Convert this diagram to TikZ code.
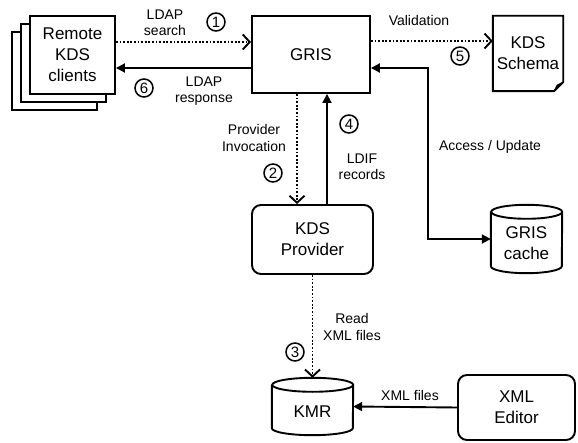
\documentclass[tikz,border=0pt]{standalone}
\usepackage{fontspec}
\setmainfont{Liberation Sans}
\usetikzlibrary{arrows.meta}

\tikzset{
 box/.style={draw,line width=1.9pt,fill=white,align=center,inner sep=0pt,font=\fontsize{17}{21}\selectfont},
 plain/.style={align=center,inner sep=0pt,font=\fontsize{17}{21}\selectfont},
 lbl/.style={align=center,inner sep=0pt,font=\fontsize{14}{16.5}\selectfont},
 num/.style={draw,circle,line width=1.5pt,minimum size=18pt,inner sep=0pt,font=\fontsize{15}{15}\selectfont},
 call/.style={line width=1.9pt,dash pattern=on 1.9pt off 1.7pt,-{Straight Barb[length=7pt,width=15pt,line width=1.9pt]}},
 ret/.style={line width=1.9pt,-{Triangle[length=9pt,width=9pt]}},
}
% cylinder outline round a node
\newcommand\drawdb[3]{%
 \draw[line width=1.9pt] ([yshift=-#3]#1.north west) -- ([yshift=#3]#1.south west)
   arc[start angle=180,end angle=360,x radius=#2,y radius=#3]
   -- ([yshift=-#3]#1.north east)
   arc[start angle=0,end angle=360,x radius=#2,y radius=#3];
}

\begin{document}
\begin{tikzpicture}[x=1pt,y=-1pt]
 \useasboundingbox (0,0) rectangle (578,443);
 % nodes
 \draw[line width=1.9pt,fill=white](12,32) rectangle (97,110);
 \draw[line width=1.9pt,fill=white](21,24) rectangle (106,102);
 \node[box,minimum width=85pt,minimum height=78pt] (clients) at (72.5,55) {Remote\\KDS\\clients};
 \node[box,minimum width=118pt,minimum height=77pt] (gris) at (311,54.5) {GRIS};
 \node[plain,minimum width=70pt,minimum height=75pt] (schema) at (528,53.5) {KDS\\Schema};
 \node[plain,minimum width=71pt,minimum height=68pt] (cache) at (526.5,239) {};
 \node[box,rounded corners=9pt,minimum width=121pt,minimum height=69pt] (provider) at (312.5,239.5) {KDS\\Provider};
 \node[plain,minimum width=81pt,minimum height=57pt] (kmr) at (312.5,406.5) {};
 \node[box,rounded corners=9pt,minimum width=117pt,minimum height=65pt] (editor) at (516.5,407.5) {XML\\Editor};

 \draw[line width=1.9pt](schema.north west)--(schema.north east)--([yshift=9pt]schema.south east)--([xshift=-9pt]schema.south east)--(schema.south west)--cycle;
 \draw[line width=1.2pt,fill=black]([xshift=-9pt]schema.south east)--([xshift=-6pt,yshift=6pt]schema.south east)--([yshift=9pt]schema.south east);
 \drawdb{cache}{35.5pt}{7pt}
 \node[plain] at ([yshift=-4pt]cache.center) {GRIS\\cache};
 \drawdb{kmr}{40.5pt}{7pt}
 \node[plain] at ([yshift=-5pt]kmr.center) {KMR};

 % connectors
 \draw[call](clients.east |- 0,42)--(gris.west |- 0,42);
 \draw[ret](gris.west |- 0,68)--(clients.east |- 0,68);
 \draw[call](gris.east |- 0,41)--(schema.west |- 0,41);
 \draw[ret,{Triangle[length=9pt,width=9pt]}-{Triangle[length=9pt,width=9pt]}](gris.east |- 0,68) -| (428,239) -- (cache.west);
 \draw[call](gris.south -| 297,0)--(provider.north -| 297,0);
 \draw[ret](provider.north -| 327,0)--(gris.south -| 327,0);
 \draw[call](provider.south)--(kmr.north);
 \draw[ret](editor.west)--(kmr.east);

 % labels
 \node[lbl] (lsearch) at (165,23) {LDAP\\search};
 \node[lbl] (lresp) at (204,91) {LDAP\\response};
 \node[lbl] (lvalid) at (419,21) {Validation};
 \node[lbl] (linvoc) at (254,138) {Provider\\Invocation};
 \node[lbl] (lldif) at (362,167) {LDIF\\records};
 \node[lbl] (laccess) at (490,147) {Access / Update};
 \node[lbl] (lread) at (352,327) {Read\\XML files};
 \node[lbl] (lxml) at (410,395) {XML files};

 \node[num] (n1) at (216,22) {1};
 \node[num] (n6) at (144,88) {6};
 \node[num] (n5) at (460,56) {5};
 \node[num] (n2) at (273,173) {2};
 \node[num] (n4) at (349,124) {4};
 \node[num] (n3) at (295,352) {3};
\end{tikzpicture}
\end{document}
